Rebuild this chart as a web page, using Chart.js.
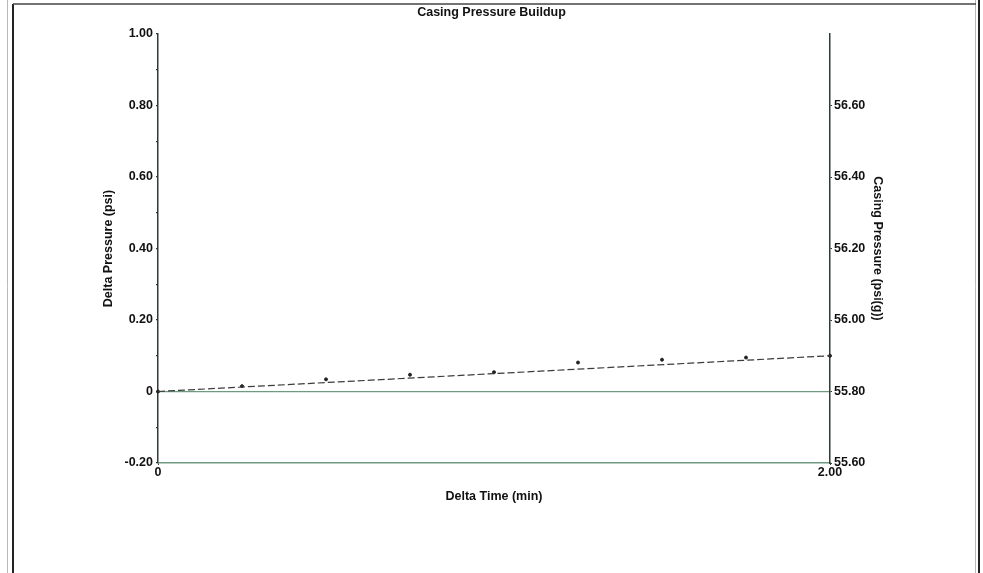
<!DOCTYPE html>
<html>
<head>
<meta charset="utf-8">
<title>Casing Pressure Buildup</title>
<script src="https://cdn.jsdelivr.net/npm/chart.js@4.4.1/dist/chart.umd.min.js"></script>
<style>
  html, body { margin: 0; padding: 0; background: #fff; }
  #wrap { width: 983px; height: 573px; position: relative; }
</style>
</head>
<body>
<div id="wrap"><canvas id="myChart" width="983" height="573"></canvas></div>
<script>
// Datos
const timeMin = [0, 0.25, 0.5, 0.75, 1.0, 1.25, 1.5, 1.75, 2.0];
const deltaPsi = [0, 0.015, 0.034, 0.047, 0.054, 0.081, 0.089, 0.095, 0.100];
// Línea de tendencia (extremos)
const trendTime = [0, 2.0];
const trendPsi = [0, 0.100];
// Etiquetas de los ejes
const xTickLabels = [0, 2.0];
const casingMin = 55.60;
const casingMax = 56.80;

const fontFam = '"Liberation Sans", Arial, sans-serif';
const boldFont = { family: fontFam, size: 12.5, weight: 'bold' };
const lineGreen = '#6f9a82';

// Marco alrededor del gráfico
const framePlugin = {
  id: 'frame',
  beforeDraw(chart) {
    const c = chart.ctx;
    c.save();
    c.strokeStyle = '#b8b8b8';
    c.lineWidth = 1;
    c.beginPath();
    c.moveTo(7.5, 0); c.lineTo(7.5, 573);
    c.moveTo(975.5, 0); c.lineTo(975.5, 573);
    c.stroke();
    c.strokeStyle = '#222';
    c.lineWidth = 2;
    c.beginPath();
    c.moveTo(13, 4); c.lineTo(13, 573);
    c.moveTo(979, 0); c.lineTo(979, 573);
    c.stroke();
    c.strokeStyle = '#444';
    c.lineWidth = 1.5;
    c.beginPath();
    c.moveTo(13, 4); c.lineTo(976, 4);
    c.stroke();
    c.restore();
  }
};

const points = timeMin.map((t, i) => ({ x: t, y: deltaPsi[i] }));
const trend = trendTime.map((t, i) => ({ x: t, y: trendPsi[i] }));

const ctx = document.getElementById('myChart').getContext('2d');
const myChart = new Chart(ctx, {
  type: 'scatter',
  data: {
    datasets: [
      {
        label: 'Trend',
        type: 'line',
        data: trend,
        borderColor: '#3c3c3c',
        borderWidth: 1.2,
        borderDash: [7, 3],
        pointRadius: 0,
        fill: false,
        yAxisID: 'y'
      },
      {
        label: 'Delta Pressure',
        data: points,
        backgroundColor: '#222',
        borderColor: '#222',
        pointRadius: 1.5,
        clip: false,
        yAxisID: 'y'
      }
    ]
  },
  options: {
    responsive: false,
    animation: false,
    layout: { padding: { left: 0, right: 0, top: 0, bottom: 0 } },
    plugins: {
      legend: { display: false },
      tooltip: { enabled: false },
      title: {
        display: true,
        text: 'Casing Pressure Buildup',
        color: '#111',
        font: boldFont,
        padding: { top: 5, bottom: 14 }
      }
    },
    scales: {
      x: {
        type: 'linear',
        min: 0,
        max: 2,
        afterBuildTicks: (s) => { s.ticks = xTickLabels.map(v => ({ value: v })); },
        afterFit: (s) => { s.height = 110; },
        ticks: {
          color: '#111',
          font: boldFont,
          padding: 0,
          maxRotation: 0,
          callback: (v) => v === 0 ? '0' : v.toFixed(2)
        },
        grid: { drawOnChartArea: false, tickLength: 2, color: '#333' },
        border: { display: true, color: lineGreen, width: 1.5 },
        title: {
          display: true,
          text: 'Delta Time (min)',
          color: '#111',
          font: boldFont,
          padding: { top: 0, bottom: 68.5 }
        }
      },
      y: {
        position: 'left',
        min: -0.2,
        max: 1.0,
        afterFit: (s) => { s.width = 158; },
        ticks: {
          stepSize: 0.1,
          color: '#111',
          font: boldFont,
          padding: 3,
          callback: (v) => {
            const n = Math.round(v * 10);
            if (n % 2 !== 0) return '';
            return n === 0 ? '0' : (n / 10).toFixed(2);
          }
        },
        grid: {
          drawOnChartArea: true,
          tickLength: 2,
          lineWidth: 1.3,
          tickColor: '#333',
          color: (c) => (c.tick && Math.abs(c.tick.value) < 1e-9) ? lineGreen : 'rgba(0,0,0,0)'
        },
        border: { display: true, color: '#2f3d34', width: 1.5 },
        title: {
          display: true,
          text: 'Delta Pressure (psi)',
          color: '#111',
          font: boldFont,
          padding: { top: 101.5, bottom: 0 }
        }
      },
      y2: {
        position: 'right',
        min: casingMin,
        max: casingMax,
        afterFit: (s) => { s.width = 153; },
        ticks: {
          stepSize: 0.2,
          color: '#111',
          font: boldFont,
          padding: 2,
          callback: (v) => v > 56.7 ? '' : v.toFixed(2)
        },
        grid: {
          drawOnChartArea: false,
          tickLength: 2,
          color: (c) => (c.tick && c.tick.value > 56.7) ? 'rgba(0,0,0,0)' : '#333'
        },
        border: { display: true, color: '#2f3d34', width: 1.5 },
        title: {
          display: true,
          text: 'Casing Pressure (psi(g))',
          color: '#111',
          font: boldFont,
          padding: { top: 98.5, bottom: 0 }
        }
      }
    }
  },
  plugins: [framePlugin]
});
</script>
</body>
</html>
